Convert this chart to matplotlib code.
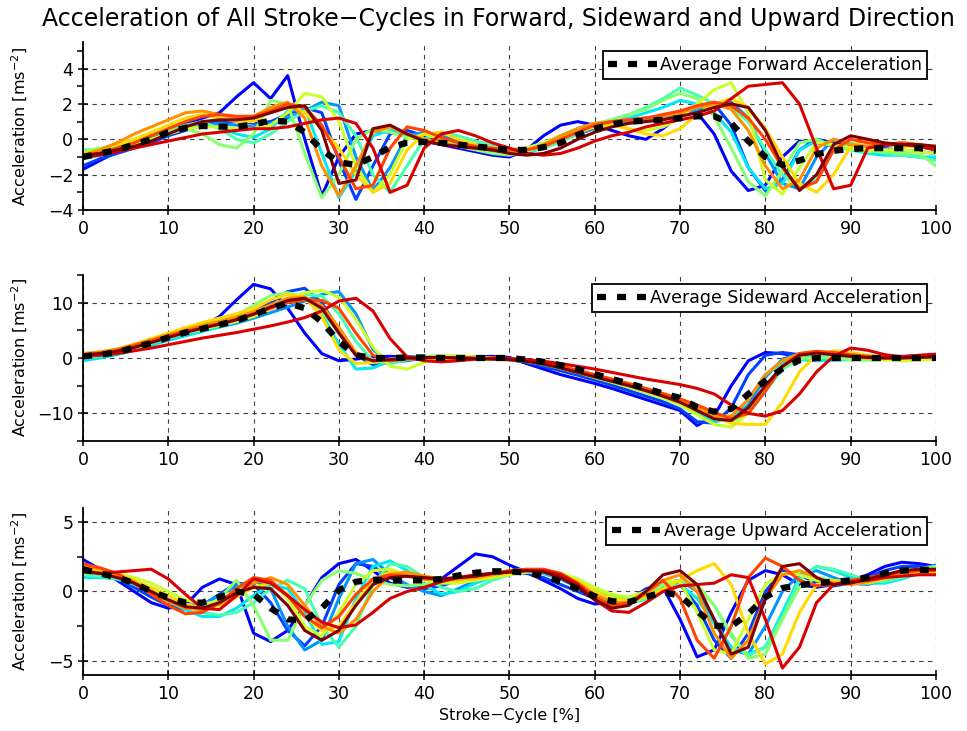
import matplotlib
matplotlib.use("Agg")
import matplotlib.pyplot as plt
from matplotlib.ticker import MultipleLocator
import numpy as np
# Acceleration of every stroke cycle (forward / sideward / upward) with the mean on top

stroke_pct = list(range(0, 101, 2))

# forward acceleration, one list per stroke cycle (values every 2 %)
forward_cycles = [
    [-1.7, -1.2, -0.7, -0.3, 0.1, 0.5, 0.9, 1.2, 1.5, 2.4,
     3.2, 2.3, 3.6, 0.0, -3.2, -1.0, 0.3, 0.5, 0.4, 0.2,
     -0.1, -0.3, -0.5, -0.7, -0.9, -1.0, -0.6, 0.2, 0.8, 1.0,
     0.8, 0.5, 0.2, 0.0, 0.6, 1.4, 1.5, 0.3, -1.8, -2.9,
     -2.6, -1.0, -0.1, -0.2, -0.4, -0.4, -0.4, -0.4, -0.3, -0.4, -0.6],
    [-1.5, -1.1, -0.8, -0.5, -0.2, 0.2, 0.5, 0.8, 1.0, 1.0,
     0.9, 1.0, 1.4, 1.8, 1.5, -1.2, -3.4, -1.5, 0.3, 0.5,
     0.2, -0.1, -0.3, -0.5, -0.7, -0.9, -0.8, -0.4, 0.2, 0.6,
     0.9, 1.0, 1.1, 1.2, 1.3, 1.5, 1.8, 2.0, 0.8, -1.6,
     -2.9, -2.3, -0.6, 0.0, -0.2, -0.4, -0.5, -0.6, -0.6, -0.7, -0.8],
    [-0.8, -0.7, -0.5, -0.3, 0.0, 0.3, 0.6, 0.8, 0.9, 0.8,
     0.7, 0.9, 1.2, 1.6, 2.1, 1.9, -1.0, -2.9, -1.6, 0.2,
     0.4, 0.2, -0.1, -0.3, -0.5, -0.6, -0.7, -0.5, -0.1, 0.3,
     0.6, 0.8, 1.0, 1.1, 1.2, 1.4, 1.6, 2.0, 2.1, 1.2,
     -0.8, -2.5, -2.8, -1.0, 0.0, -0.3, -0.6, -0.8, -0.9, -1.0, -1.1],
    [-1.1, -0.9, -0.6, -0.3, 0.0, 0.3, 0.6, 0.8, 0.7, 0.3,
     0.1, 0.6, 1.6, 1.8, -0.8, -3.3, -1.8, 0.2, 0.5, 0.3,
     0.0, -0.2, -0.3, -0.4, -0.5, -0.6, -0.5, -0.2, 0.2, 0.5,
     0.8, 1.0, 1.2, 1.5, 1.8, 2.2, 2.0, 1.5, 0.4, -1.6,
     -2.8, -2.5, -0.6, -0.1, -0.4, -0.6, -0.8, -0.9, -0.9, -1.0, -1.0],
    [-0.6, -0.6, -0.4, -0.1, 0.2, 0.5, 0.8, 1.0, 0.6, 0.0,
     -0.2, 0.3, 1.0, 1.6, 1.9, 1.5, 0.2, -2.0, -3.0, -1.5,
     0.0, 0.4, 0.2, -0.1, -0.3, -0.5, -0.7, -0.5, -0.1, 0.3,
     0.8, 1.1, 1.4, 1.8, 2.3, 2.9, 2.5, 2.0, 1.8, 1.0,
     -0.6, -2.0, -2.7, -2.3, -0.6, -0.2, -0.5, -0.8, -0.9, -1.0, -1.2],
    [-0.7, -0.5, -0.3, 0.0, 0.3, 0.5, 0.6, 0.3, -0.3, -0.5,
     0.3, 2.2, 2.0, -0.8, -3.3, -2.0, 0.0, 0.6, 0.4, 0.1,
     0.0, -0.2, -0.4, -0.6, -0.8, -0.9, -0.7, -0.3, 0.2, 0.6,
     0.9, 1.1, 1.4, 1.7, 2.2, 2.6, 2.3, 1.3, -0.5, -2.4,
     -3.2, -1.8, -0.2, 0.0, -0.4, -0.6, -0.7, -0.7, -0.8, -0.8, -1.5],
    [-0.9, -0.8, -0.6, -0.3, 0.0, 0.3, 0.6, 0.7, 0.7, 0.6,
     0.6, 0.8, 1.5, 2.6, 2.4, 1.0, -1.5, -3.0, -2.0, 0.0,
     0.3, 0.0, -0.2, -0.4, -0.5, -0.6, -0.5, -0.2, 0.2, 0.5,
     0.7, 0.8, 0.6, 0.5, 0.7, 1.2, 2.0, 2.8, 3.2, 1.5,
     -2.3, -3.1, -1.6, -0.2, -0.3, -0.5, -0.6, -0.6, -0.6, -0.7, -0.8],
    [-0.8, -0.6, -0.3, 0.0, 0.4, 0.8, 1.2, 1.4, 1.2, 1.0,
     1.0, 1.6, 2.0, 1.5, 0.6, -0.5, -2.0, -3.0, -2.5, -0.6,
     0.3, 0.4, 0.0, -0.3, -0.5, -0.6, -0.6, -0.4, 0.0, 0.4,
     0.7, 0.8, 0.6, 0.3, 0.2, 0.6, 1.4, 2.0, 2.3, 1.8,
     0.6, -1.0, -2.5, -3.0, -2.0, -0.4, 0.0, -0.3, -0.4, -0.4, -0.5],
    [-0.9, -0.6, -0.2, 0.3, 0.7, 1.1, 1.5, 1.6, 1.4, 1.2,
     1.3, 1.8, 2.1, 1.2, -1.5, -3.2, -1.5, 0.4, 0.7, 0.3,
     0.0, -0.2, -0.4, -0.5, -0.6, -0.7, -0.6, -0.3, 0.2, 0.6,
     0.9, 1.0, 1.1, 1.2, 1.3, 1.5, 1.8, 2.0, 1.7, 0.5,
     -1.5, -2.8, -2.3, -0.5, 0.0, -0.3, -0.4, -0.3, -0.2, -0.3, -0.4],
    [-1.0, -0.8, -0.5, -0.2, 0.2, 0.6, 1.0, 1.3, 1.4, 1.3,
     1.3, 1.6, 2.0, 1.8, 0.8, -1.0, -2.8, -2.6, -0.5, 0.7,
     0.5, 0.1, -0.2, -0.4, -0.5, -0.6, -0.6, -0.4, 0.0, 0.4,
     0.8, 1.0, 1.1, 1.2, 1.4, 1.6, 1.9, 2.1, 1.9, 1.2,
     0.0, -1.6, -2.8, -2.4, -0.6, 0.0, -0.2, -0.3, -0.2, -0.3, -0.5],
    [-1.0, -0.9, -0.7, -0.5, -0.3, -0.1, 0.1, 0.3, 0.4, 0.5,
     0.6, 0.6, 0.7, 0.9, 1.1, 1.2, 0.9, -0.5, -3.0, -2.6,
     -0.5, 0.3, 0.5, 0.2, -0.2, -0.5, -0.8, -0.9, -0.8, -0.5,
     -0.1, 0.2, 0.4, 0.7, 0.9, 1.1, 1.3, 1.6, 2.3, 3.0,
     3.1, 3.2, 2.0, -0.5, -2.8, -2.6, -0.5, -0.3, -0.3, -0.4, -0.6],
    [-0.9, -0.8, -0.6, -0.4, -0.1, 0.3, 0.7, 1.0, 1.1, 1.1,
     1.2, 1.5, 1.8, 1.9, 0.5, -2.5, -2.3, 0.6, 0.8, 0.3,
     -0.1, -0.3, -0.4, -0.5, -0.6, -0.8, -0.9, -0.8, -0.5, 0.0,
     0.4, 0.7, 0.9, 1.0, 1.1, 1.3, 1.5, 1.8, 2.0, 1.8,
     0.5, -1.5, -2.9, -2.0, -0.3, 0.2, 0.0, -0.2, -0.3, -0.3, -0.4],
]
forward_mean = [
    -1.0, -0.8, -0.6, -0.3, 0.0, 0.4, 0.65, 0.75, 0.72, 0.7,
    0.85, 1.05, 1.0, 0.4, -0.6, -1.3, -1.45, -1.0, -0.45, -0.2,
    -0.15, -0.2, -0.3, -0.4, -0.5, -0.6, -0.6, -0.45, -0.2, 0.25,
    0.6, 0.85, 1.0, 1.05, 1.1, 1.2, 1.3, 1.3, 0.9, -0.1,
    -1.0, -1.45, -1.2, -0.85, -0.65, -0.55, -0.5, -0.5, -0.5, -0.5, -0.65]

# sideward acceleration
sideward_cycles = [
    [-0.3, 0.3, 1.0, 1.9, 2.9, 3.9, 4.9, 5.7, 7.5, 10.5,
     13.3, 12.5, 9.0, 4.5, 0.8, -0.5, -0.2, 0.2, 0.3, 0.2,
     0.2, 0.1, 0.1, 0.2, 0.3, 0.1, -1.0, -2.0, -3.0, -3.8,
     -4.6, -5.5, -6.5, -7.5, -8.5, -9.5, -12.2, -10.5, -5.0, -0.5,
     1.0, 0.8, 0.2, 0.0, 0.1, 0.3, 0.3, 0.2, 0.3, 0.4, 0.5],
    [0.0, 0.4, 1.0, 1.8, 2.6, 3.5, 4.3, 5.0, 5.8, 6.8,
     8.2, 10.0, 12.0, 12.6, 10.0, 5.0, 0.5, -1.2, -0.8, -0.2,
     0.1, 0.2, 0.1, 0.0, -0.1, -0.3, -0.8, -1.5, -2.3, -3.1,
     -4.0, -4.9, -5.9, -6.9, -7.9, -9.2, -11.5, -11.8, -9.0, -3.0,
     0.5, 1.0, 0.6, 0.1, 0.0, 0.0, 0.1, 0.2, 0.2, 0.3, 0.3],
    [0.2, 0.5, 0.9, 1.6, 2.5, 3.4, 4.3, 5.0, 5.6, 6.3,
     7.2, 8.2, 9.2, 10.3, 11.5, 12.0, 8.0, 1.5, -0.8, -0.5,
     0.0, 0.2, 0.3, 0.2, 0.0, -0.2, -0.6, -1.2, -1.9, -2.7,
     -3.6, -4.4, -5.2, -6.0, -6.9, -8.0, -9.5, -11.0, -11.3, -8.5,
     -3.5, -0.2, 0.8, 0.6, 0.2, 0.0, 0.0, 0.1, 0.2, 0.3, 0.4],
    [-0.5, 0.0, 0.6, 1.4, 2.3, 3.2, 4.0, 4.8, 5.6, 6.6,
     7.8, 9.5, 10.8, 11.0, 8.0, 2.5, -2.0, -1.8, -0.5, 0.0,
     0.2, 0.1, 0.0, -0.1, -0.2, -0.3, -0.6, -1.1, -1.8, -2.6,
     -3.5, -4.4, -5.3, -6.2, -7.1, -8.3, -10.0, -11.5, -11.0, -7.5,
     -3.0, -0.8, -0.3, -0.5, -0.4, -0.3, -0.2, -0.2, -0.1, 0.0, 0.1],
    [0.0, 0.4, 1.0, 1.8, 2.7, 3.6, 4.5, 5.3, 6.0, 6.8,
     7.8, 9.0, 10.5, 11.5, 11.2, 8.0, 3.0, -0.5, -1.0, -0.3,
     0.1, 0.2, 0.1, 0.0, -0.1, -0.2, -0.5, -1.0, -1.7, -2.5,
     -3.3, -4.1, -4.9, -5.7, -6.6, -7.6, -9.0, -10.5, -11.5, -10.0,
     -6.0, -2.0, -0.2, 0.3, 0.2, -0.2, -0.3, -0.2, -0.1, 0.0, 0.1],
    [0.3, 0.7, 1.3, 2.2, 3.1, 4.1, 5.1, 6.0, 6.8, 7.8,
     9.5, 11.3, 11.8, 11.0, 8.5, 4.5, 0.8, -0.8, -0.5, 0.0,
     0.3, 0.4, 0.3, 0.1, 0.0, -0.1, -0.4, -0.9, -1.6, -2.4,
     -3.3, -4.3, -5.3, -6.3, -7.3, -8.3, -9.5, -11.0, -11.5, -9.5,
     -5.0, -1.5, -0.2, 0.1, 0.0, -0.3, -0.4, -0.3, -0.2, -0.1, 0.0],
    [0.1, 0.5, 1.1, 1.9, 2.8, 3.7, 4.5, 5.2, 5.9, 6.6,
     7.5, 8.8, 10.5, 11.8, 12.2, 11.0, 7.0, 2.0, -1.5, -2.0,
     -0.8, 0.2, 0.4, 0.2, 0.0, -0.2, -0.5, -1.0, -1.7, -2.5,
     -3.4, -4.3, -5.2, -6.1, -7.2, -8.5, -10.3, -12.0, -12.5, -10.0,
     -5.0, -1.5, 0.3, 1.0, 0.8, 0.4, 0.0, -0.3, -0.5, -0.4, -0.2],
    [0.5, 1.0, 1.6, 2.5, 3.5, 4.5, 5.5, 6.4, 7.2, 8.0,
     9.0, 10.5, 11.5, 11.0, 7.5, 1.5, -1.0, -0.8, -0.2, 0.1,
     0.1, 0.0, 0.0, -0.1, -0.2, -0.3, -0.6, -1.1, -1.8, -2.6,
     -3.5, -4.3, -5.1, -5.9, -6.8, -7.8, -9.0, -10.5, -11.8, -12.0,
     -12.0, -8.0, -2.5, 0.5, 1.3, 1.0, 0.5, 0.2, 0.1, 0.2, 0.3],
    [0.8, 1.1, 1.6, 2.4, 3.3, 4.2, 5.1, 5.9, 6.6, 7.4,
     8.4, 9.6, 10.8, 11.0, 9.5, 5.5, 1.0, -0.5, -0.3, 0.0,
     0.1, 0.0, -0.1, -0.2, -0.2, -0.3, -0.6, -1.1, -1.8, -2.6,
     -3.4, -4.2, -5.0, -5.9, -6.8, -7.8, -9.0, -10.5, -10.5, -7.5,
     -3.0, -0.5, 0.8, 1.2, 0.8, 0.3, 0.0, -0.1, 0.0, 0.2, 0.4],
    [0.6, 0.9, 1.4, 2.2, 3.1, 4.0, 4.8, 5.5, 6.2, 7.0,
     8.0, 9.0, 10.0, 10.5, 10.4, 9.0, 4.5, 0.5, -0.5, -0.2,
     0.0, 0.1, 0.1, 0.0, -0.1, -0.2, -0.5, -0.9, -1.5, -2.2,
     -3.0, -3.8, -4.6, -5.5, -6.4, -7.4, -8.5, -9.8, -11.0, -10.0,
     -6.0, -1.5, 0.8, 1.2, 1.0, 0.6, 0.3, 0.2, 0.2, 0.2, 0.3],
    [0.3, 0.5, 0.8, 1.3, 1.8, 2.4, 3.0, 3.6, 4.1, 4.6,
     5.2, 5.8, 6.5, 7.3, 8.5, 10.3, 10.8, 8.5, 3.5, 0.2,
     -0.5, -0.7, -0.5, -0.2, 0.0, -0.1, -0.3, -0.6, -1.0, -1.5,
     -2.0, -2.6, -3.2, -3.8, -4.3, -4.8, -5.5, -6.5, -8.5, -10.0,
     -10.5, -9.5, -6.5, -2.5, 0.3, 1.8, 1.4, 0.6, 0.2, 0.5, 0.7],
    [0.5, 0.8, 1.2, 1.9, 2.8, 3.7, 4.6, 5.4, 6.1, 6.9,
     7.9, 9.2, 10.4, 10.8, 9.0, 4.5, 0.5, -0.5, -0.3, 0.0,
     0.1, 0.1, 0.0, -0.1, -0.2, -0.3, -0.6, -1.1, -1.8, -2.6,
     -3.4, -4.2, -5.0, -5.9, -6.9, -8.0, -9.5, -11.0, -11.3, -9.0,
     -5.0, -1.5, 0.5, 0.9, 0.6, 0.3, 0.1, 0.0, 0.0, 0.1, 0.2],
]
sideward_mean = [
    0.3, 0.6, 1.0, 1.9, 2.7, 3.7, 4.6, 5.3, 6.0, 6.8,
    7.8, 9.0, 9.9, 9.0, 6.5, 3.0, 0.5, 0.0, 0.0, 0.1,
    0.1, 0.0, 0.0, 0.0, 0.0, 0.0, -0.3, -0.7, -1.3, -2.0,
    -2.9, -3.8, -4.6, -5.5, -6.4, -7.2, -8.9, -9.7, -9.2, -6.5,
    -4.1, -1.9, -0.4, 0.0, 0.0, 0.0, 0.0, 0.0, 0.0, 0.0, 0.0]

# upward acceleration
upward_cycles = [
    [2.3, 1.6, 0.8, 0.0, -0.8, -1.2, -1.0, 0.3, 0.9, 0.5,
     -3.0, -3.6, -2.8, -1.0, 1.0, 2.0, 2.3, 1.5, 0.6, 0.3,
     0.4, 0.9, 1.8, 2.7, 2.5, 1.9, 1.4, 0.8, 0.2, -0.5,
     -0.9, -0.8, -0.5, 0.0, 0.3, -2.0, -4.7, -4.2, -1.5, 0.8,
     1.5, 1.2, 0.5, 0.3, 0.5, 0.8, 1.2, 1.8, 2.1, 2.0, 1.8],
    [1.8, 1.4, 0.9, 0.3, -0.4, -1.0, -1.3, -1.0, -0.2, 0.6,
     0.5, -0.8, -2.8, -3.9, -2.5, 0.5, 2.0, 1.8, 1.0, 0.4,
     0.2, 0.4, 0.8, 1.1, 1.3, 1.4, 1.3, 1.0, 0.5, 0.0,
     -0.5, -0.8, -0.6, 0.2, 0.6, 0.5, -1.0, -3.5, -4.8, -3.0,
     0.0, 1.5, 1.2, 0.6, 0.4, 0.6, 1.0, 1.5, 1.8, 1.8, 1.7],
    [1.3, 1.2, 1.0, 0.6, 0.0, -0.6, -1.0, -0.9, -0.3, 0.4,
     0.8, 0.2, -2.5, -4.2, -3.5, -0.5, 2.0, 2.3, 1.2, 0.5,
     0.0, -0.3, 0.2, 0.8, 1.2, 1.4, 1.5, 1.3, 0.9, 0.3,
     -0.3, -0.7, -0.6, 0.0, 0.6, 0.8, 0.0, -2.0, -4.2, -4.5,
     -2.5, 0.0, 1.2, 1.5, 1.0, 0.6, 0.5, 0.8, 1.2, 1.6, 1.9],
    [1.0, 1.0, 0.9, 0.5, 0.0, -0.7, -1.3, -1.8, -1.8, -1.2,
     -0.3, 0.5, 0.2, -1.5, -3.8, -3.6, -0.5, 1.8, 2.2, 1.5,
     0.5, -0.2, 0.0, 0.6, 1.0, 1.3, 1.4, 1.3, 1.0, 0.5,
     0.0, -0.5, -0.7, -0.3, 0.3, 0.5, -0.5, -2.3, -4.0, -4.5,
     -4.0, -1.5, 1.0, 1.8, 1.5, 1.0, 0.6, 0.6, 0.9, 1.3, 1.5],
    [1.2, 1.1, 0.9, 0.7, 0.3, -0.3, -0.9, -1.5, -1.7, -1.5,
     -0.8, 0.2, 0.8, 0.2, -2.5, -4.0, -2.5, 0.5, 2.0, 1.8,
     1.0, 0.3, 0.0, 0.2, 0.8, 1.2, 1.4, 1.4, 1.2, 0.7,
     0.1, -0.5, -0.8, -0.6, 0.0, 0.5, 0.4, -1.0, -3.2, -4.6,
     -4.0, -1.8, 0.8, 1.8, 1.6, 1.2, 0.8, 0.7, 1.0, 1.4, 1.7],
    [1.5, 1.4, 1.2, 0.8, 0.2, -0.5, -1.1, -1.4, -0.5, 0.8,
     -1.0, -3.5, -3.5, -1.0, 0.8, 1.5, 1.3, 0.8, 0.5, 0.4,
     0.5, 0.7, 0.9, 1.1, 1.3, 1.5, 1.6, 1.5, 1.2, 0.8,
     0.2, -0.3, -0.5, -0.2, 0.5, 0.8, 0.5, -1.0, -3.0, -4.8,
     -4.5, -2.0, 0.3, 1.0, 0.8, 0.7, 0.8, 1.0, 1.3, 1.6, 1.8],
    [1.6, 1.5, 1.3, 1.0, 0.6, 0.0, -0.6, -0.9, -0.7, 0.0,
     0.7, 0.8, -0.5, -2.5, -3.2, -1.5, 0.5, 1.5, 1.6, 1.2,
     0.8, 0.6, 0.6, 0.8, 1.0, 1.2, 1.4, 1.5, 1.3, 0.9,
     0.3, -0.2, -0.4, 0.0, 0.8, 0.7, -1.5, -4.2, -4.5, -2.0,
     0.5, 1.3, 1.2, 0.8, 0.6, 0.6, 0.8, 1.1, 1.4, 1.6, 1.6],
    [1.7, 1.5, 1.2, 0.8, 0.3, -0.3, -0.9, -1.2, -1.0, -0.4,
     0.3, 0.6, -0.2, -1.8, -2.8, -2.5, -0.8, 0.8, 1.4, 1.3,
     1.0, 0.8, 0.8, 0.9, 1.1, 1.3, 1.5, 1.5, 1.2, 0.7,
     0.0, -0.5, -0.7, -0.4, 0.2, 0.8, 1.5, 2.0, 0.5, -3.0,
     -5.2, -4.5, -1.5, 0.5, 0.8, 0.6, 0.6, 0.9, 1.2, 1.4, 1.3],
    [1.9, 1.6, 1.2, 0.7, 0.0, -0.7, -1.2, -1.3, -0.9, -0.2,
     0.6, 1.0, 0.5, -1.0, -2.5, -3.0, -2.0, 0.0, 1.2, 1.4,
     1.1, 0.9, 0.9, 1.0, 1.2, 1.4, 1.5, 1.5, 1.2, 0.6,
     -0.2, -0.8, -0.8, -0.2, 0.8, 1.2, 0.0, -3.0, -4.8, -3.5,
     -0.5, 1.2, 1.5, 1.0, 0.6, 0.5, 0.7, 1.0, 1.3, 1.5, 1.6],
    [2.0, 1.7, 1.3, 0.6, -0.2, -1.0, -1.6, -1.5, -0.8, 0.2,
     1.0, 0.8, -0.3, -1.8, -2.6, -1.8, -0.2, 0.9, 1.2, 1.1,
     0.9, 0.9, 1.0, 1.1, 1.3, 1.5, 1.6, 1.6, 1.3, 0.6,
     -0.4, -1.0, -0.8, 0.0, 0.8, -0.5, -3.5, -4.8, -2.5, 1.0,
     2.4, 1.8, 0.8, 0.4, 0.5, 0.8, 1.0, 1.2, 1.4, 1.5, 1.5],
    [1.4, 1.3, 1.4, 1.5, 1.6, 0.9, -0.2, -1.2, -1.3, -0.3,
     0.9, 0.6, -0.3, -1.3, -2.2, -2.6, -2.4, -1.5, -0.5, 0.0,
     0.3, 0.7, 1.0, 1.2, 1.3, 1.4, 1.5, 1.5, 1.2, 0.5,
     -0.6, -1.4, -1.5, -0.8, 0.0, 0.4, 0.5, 0.6, 1.2, 1.0,
     -2.0, -5.5, -4.0, -0.8, 0.5, 0.7, 0.8, 1.0, 1.1, 1.2, 1.2],
    [1.5, 1.3, 1.0, 0.6, 0.0, -0.6, -1.1, -1.2, -0.8, -0.1,
     0.3, 0.2, -1.0, -2.8, -3.5, -2.8, -1.0, 0.5, 1.0, 1.1,
     1.0, 0.9, 1.0, 1.1, 1.3, 1.4, 1.5, 1.4, 1.0, 0.3,
     -0.6, -1.2, -1.0, 0.0, 1.2, 1.5, 0.5, -2.0, -4.5, -4.0,
     -0.5, 1.8, 2.0, 1.0, 0.5, 0.6, 0.9, 1.2, 1.5, 1.6, 1.6],
]
upward_mean = [
    1.6, 1.3, 1.0, 0.6, 0.0, -0.45, -0.8, -0.8, -0.4, 0.0,
    -0.2, -1.2, -2.0, -2.1, -1.2, 0.1, 0.7, 0.85, 0.8, 0.8,
    0.8, 0.9, 1.15, 1.35, 1.45, 1.45, 1.35, 1.1, 0.7, 0.2,
    -0.35, -0.7, -0.75, -0.4, -0.05, -0.3, -1.4, -2.45, -2.5, -1.6,
    -0.4, 0.25, 0.45, 0.6, 0.7, 0.8, 1.0, 1.3, 1.5, 1.55, 1.55]

plt.rcParams['font.family'] = ['DejaVu Sans']
plt.rcParams['mathtext.default'] = 'regular'


def draw_panel(ax, cycles, mean, ylim, major, minor, label):
    colors = plt.cm.jet(np.linspace(0.11, 1.0, len(cycles)))
    for vals, col in zip(cycles, colors):
        ax.plot(stroke_pct, vals, color=col, lw=2.2, zorder=2,
                solid_joinstyle='round')
    ax.plot(stroke_pct, mean, color='k', lw=4.5, dashes=(1.45, 1.75),
            label=label, zorder=3)

    ax.set_xlim(0, 100)
    ax.set_ylim(*ylim)
    ax.xaxis.set_major_locator(MultipleLocator(10))
    ax.yaxis.set_major_locator(MultipleLocator(major))
    ax.yaxis.set_minor_locator(MultipleLocator(minor))
    ax.grid(True, which='major', color='0.25', lw=0.8, ls=(0, (4, 4)))

    for s in ['top', 'right']:
        ax.spines[s].set_visible(False)
    for s in ['left', 'bottom']:
        ax.spines[s].set_linewidth(1.3)
    ax.tick_params(which='major', direction='inout', length=7, width=1.1,
                   labelsize=12.5)
    ax.tick_params(axis='y', which='minor', direction='out', length=4, width=1.1)
    ax.set_ylabel(r'Acceleration [ms$^{-2}$]', fontsize=11.5)
    ax.yaxis.set_label_coords(-0.062, 0.5)

    leg = ax.legend(loc='upper right', fontsize=12.5, frameon=True, fancybox=False,
                    edgecolor='k', framealpha=1, handlelength=2.8, handletextpad=0.2,
                    borderpad=0.3, borderaxespad=0.5)
    leg.get_frame().set_linewidth(1.3)


fig = plt.figure(figsize=(9.67, 7.31), dpi=100)
ax1 = fig.add_axes([0.0858, 0.7127, 0.8821, 0.2298])
ax2 = fig.add_axes([0.0858, 0.3967, 0.8821, 0.2271])
ax3 = fig.add_axes([0.0858, 0.0766, 0.8821, 0.2285])

draw_panel(ax1, forward_cycles, forward_mean, (-4, 5.5), 2, 1,
           'Average Forward Acceleration')
draw_panel(ax2, sideward_cycles, sideward_mean, (-15, 15), 10, 5,
           'Average Sideward Acceleration')
draw_panel(ax3, upward_cycles, upward_mean, (-6, 6), 5, 2.5,
           'Average Upward Acceleration')

ax3.set_xlabel('Stroke\u2212Cycle [%]', fontsize=11.5)
ax3.xaxis.set_label_coords(0.5, -0.2)

fig.suptitle('Acceleration of All Stroke\u2212Cycles in Forward, Sideward and Upward Direction',
             fontsize=17, x=0.515, y=0.991, va='top')

fig.savefig('out.png', dpi=100)
